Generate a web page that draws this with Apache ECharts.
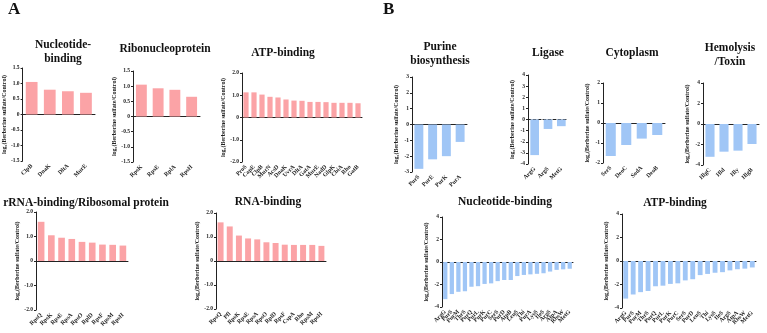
<!DOCTYPE html>
<html>
<head>
<meta charset="utf-8">
<script src="https://cdn.jsdelivr.net/npm/echarts@6/dist/echarts.min.js"></script>
<style>
  html, body { margin: 0; padding: 0; background: #fff; }
  #main { width: 767px; height: 333px; }
</style>
</head>
<body>
<div id="main"></div>
<script>
// ---- data (A: up-regulated, B: down-regulated) ----
var nucNamesA = ["ClpB", "DnaK", "DltA", "MurE"];
var nucValsA = [1.05, 0.8, 0.75, 0.7];
var riboNames = ["RpsK", "RpsE", "RplA", "RpsH"];
var riboVals = [1.05, 0.93, 0.88, 0.65];
var atpNamesA = ["ProS", "CapE", "ClpB", "MurN", "AcsD", "DnaK", "UvrA", "DltA", "GatA", "MurE", "NadD", "GlpK", "CbiA", "Rho", "GatB"];
var atpValsA = [1.13, 1.13, 1.03, 0.93, 0.9, 0.81, 0.76, 0.75, 0.7, 0.7, 0.69, 0.66, 0.66, 0.66, 0.64];
var rrnaNames = ["RpsQ", "RpsK", "RpsE", "RpsA", "RpsO", "RplD", "RpsF", "RpsM", "RpsH"];
var rrnaVals = [1.6, 1.05, 0.95, 0.9, 0.78, 0.75, 0.67, 0.66, 0.63];
var rnaNames = ["RpsQ", "Pfl", "RpsK", "RpsE", "RpsA", "RpsO", "RplD", "RpsF", "CspA", "Rho", "RpsM", "RpsH"];
var rnaVals = [1.61, 1.44, 1.06, 0.94, 0.9, 0.78, 0.75, 0.68, 0.67, 0.67, 0.67, 0.63];

var purNames = ["PurS", "PurE", "PurK", "PurA"];
var purVals = [-2.8, -2.2, -2.0, -1.1];
var ligNames = ["ArgG", "ArgS", "MetG"];
var ligVals = [-3.2, -0.85, -0.6];
var cytoNames = ["SerS", "DeoC", "SodA", "DeoB"];
var cytoVals = [-1.65, -1.1, -0.78, -0.6];
var hemoNames = ["HlgC", "Hld", "Hly", "HlgB"];
var hemoVals = [-3.2, -2.7, -2.6, -1.95];
var nucNamesB = ["ArgG", "PurS", "PurM", "ThrS", "PurQ", "PurL", "PurK", "PurC", "SerS", "PurD", "AtpB", "LeuS", "Thi", "PurA", "LysS", "IleS", "ArgS", "AtpA", "RbsW", "MetG"];
var nucValsB = [-3.3, -2.85, -2.65, -2.6, -2.2, -2.15, -1.95, -1.9, -1.7, -1.6, -1.6, -1.25, -1.15, -1.1, -1.05, -1.0, -0.85, -0.7, -0.65, -0.6];
var atpNamesB = ["ArgG", "PurS", "PurM", "ThrS", "PurQ", "PurL", "PurK", "PurC", "SerS", "PurD", "LeuS", "Thi", "LysS", "IleS", "ArgS", "AtpA", "RbsW", "MetG"];
var atpValsB = [-3.2, -2.85, -2.65, -2.55, -2.15, -2.1, -1.95, -1.9, -1.65, -1.55, -1.2, -1.1, -1.0, -0.95, -0.8, -0.7, -0.65, -0.55];

var PINK = "#FBA3A6";
var BLUE = "#A0C6F6";
var SERIF = '"Liberation Serif", "DejaVu Serif", serif';
var yName = "log\u2082(Berberine sulfate/Control)";

var dec1 = function(v) { return v === 0 ? "0" : v.toFixed(1); };
var intf = function(v) { return String(v); };

var panels = [
  { title: "Nucleotide-\nbinding", tx: 63, ty: 52, names: nucNamesA, vals: nucValsA, color: PINK, x: 22, y: 68, w: 73, h: 93, min: -1.5, max: 1.5, step: 0.5, fmt: dec1 },
  { title: "Ribonucleoprotein", tx: 165, ty: 49, names: riboNames, vals: riboVals, color: PINK, x: 133, y: 71, w: 67, h: 91, min: -1.5, max: 1.5, step: 0.5, fmt: dec1 },
  { title: "ATP-binding", tx: 283, ty: 53, names: atpNamesA, vals: atpValsA, color: PINK, x: 242, y: 73, w: 120, h: 89, min: -2, max: 2, step: 1, fmt: dec1 },
  { title: "rRNA-binding/Ribosomal protein", tx: 86, ty: 203, names: rrnaNames, vals: rrnaVals, color: PINK, x: 36, y: 212, w: 92, h: 98, min: -2, max: 2, step: 1, fmt: dec1 },
  { title: "RNA-binding", tx: 268, ty: 202, names: rnaNames, vals: rnaVals, color: PINK, x: 216, y: 213, w: 110, h: 96, min: -2, max: 2, step: 1, fmt: dec1 },
  { title: "Purine\nbiosynthesis", tx: 440, ty: 54, names: purNames, vals: purVals, color: BLUE, x: 412, y: 77, w: 55, h: 95, min: -3, max: 3, step: 1, fmt: intf },
  { title: "Ligase", tx: 548, ty: 53, names: ligNames, vals: ligVals, color: BLUE, x: 528, y: 75, w: 40, h: 89, min: -4, max: 4, step: 1, fmt: intf, dashed: true },
  { title: "Cytoplasm", tx: 632, ty: 53, names: cytoNames, vals: cytoVals, color: BLUE, x: 603, y: 83, w: 62, h: 80, min: -2, max: 2, step: 1, fmt: intf },
  { title: "Hemolysis\n/Toxin", tx: 730, ty: 55, names: hemoNames, vals: hemoVals, color: BLUE, x: 703, y: 83, w: 56, h: 82, min: -4, max: 4, step: 2, fmt: intf },
  { title: "Nucleotide-binding", tx: 505, ty: 202, names: nucNamesB, vals: nucValsB, color: BLUE, x: 442, y: 217, w: 131, h: 90, min: -4, max: 4, step: 2, fmt: intf },
  { title: "ATP-binding", tx: 675, ty: 203, names: atpNamesB, vals: atpValsB, color: BLUE, x: 622, y: 214, w: 134, h: 94, min: -4, max: 4, step: 2, fmt: intf }
];

var grid = [], xAxis = [], yAxis = [], series = [];
var graphic = [
  { type: "text", left: 8, top: 1, style: { text: "A", font: "bold 17px " + SERIF, fill: "#111" } },
  { type: "text", left: 383, top: 1, style: { text: "B", font: "bold 17px " + SERIF, fill: "#111" } }
];

panels.forEach(function(p, i) {
  grid.push({ left: p.x, top: p.y, width: p.w, height: p.h, containLabel: false });
  // labels at the bottom of the plot
  xAxis.push({
    gridIndex: i,
    type: "category",
    data: p.names,
    position: "bottom",
    axisLine: { show: false, onZero: false },
    axisTick: { show: false },
    axisLabel: { interval: 0, rotate: 45, fontSize: 6, fontWeight: "bold", fontFamily: SERIF, color: "#222", margin: 4 }
  });
  // zero line
  xAxis.push({
    gridIndex: i,
    type: "category",
    data: p.names,
    position: "top",
    axisLine: { show: true, onZero: true, lineStyle: { color: "#222", width: 1, type: p.dashed ? [3, 2] : "solid" } },
    axisTick: { show: false },
    axisLabel: { show: false }
  });
  yAxis.push({
    gridIndex: i,
    type: "value",
    min: p.min,
    max: p.max,
    interval: p.step,
    name: yName,
    nameLocation: "middle",
    nameGap: 13,
    nameTextStyle: { fontSize: 6, fontWeight: "bold", fontFamily: SERIF, color: "#222" },
    axisLine: { show: true, lineStyle: { color: "#222", width: 1 } },
    axisTick: { show: true, length: 2, lineStyle: { color: "#222" } },
    axisLabel: { fontSize: 5.5, fontWeight: "bold", fontFamily: SERIF, color: "#222", margin: 3, formatter: p.fmt },
    splitLine: { show: false }
  });
  series.push({
    type: "bar",
    xAxisIndex: i * 2,
    yAxisIndex: i,
    data: p.vals,
    barWidth: "65%",
    itemStyle: { color: p.color },
    silent: true
  });
  graphic.push({
    type: "text",
    x: p.tx,
    y: p.ty,
    style: {
      text: p.title,
      font: "bold 11.5px " + SERIF,
      lineHeight: 14,
      fill: "#111",
      textAlign: "center",
      textVerticalAlign: "middle"
    }
  });
});

var chart = echarts.init(document.getElementById("main"));
chart.setOption({
  animation: false,
  backgroundColor: "#fff",
  grid: grid,
  xAxis: xAxis,
  yAxis: yAxis,
  series: series,
  graphic: graphic
});
</script>
</body>
</html>
